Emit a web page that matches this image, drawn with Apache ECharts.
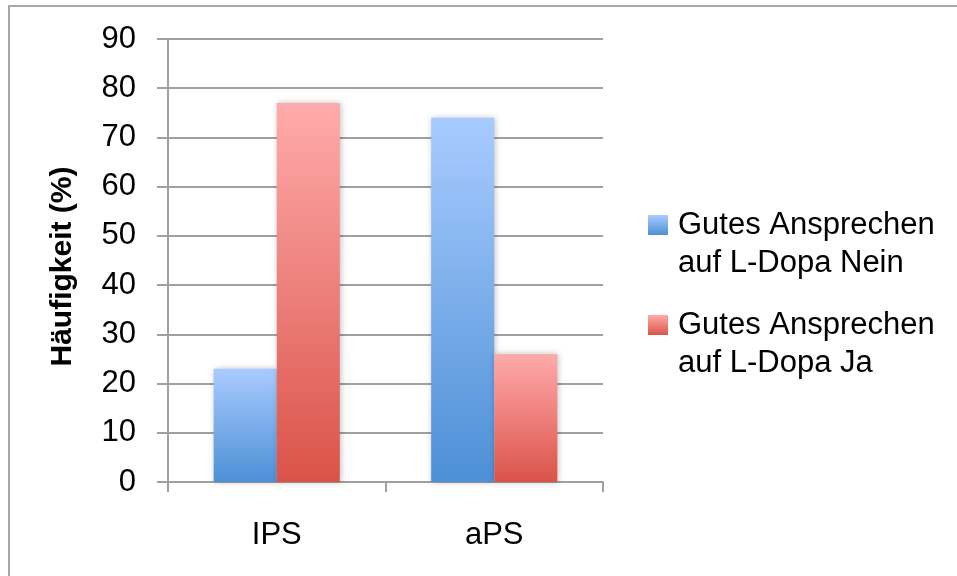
<!DOCTYPE html>
<html>
<head>
<meta charset="utf-8">
<script src="https://cdn.jsdelivr.net/npm/echarts@6/dist/echarts.min.js"></script>
<style>
html,body{margin:0;padding:0;background:#fff;overflow:hidden;}
#frame{position:absolute;left:8px;top:5px;width:1000px;height:700px;border-left:2px solid #a8a8a8;border-top:2px solid #a8a8a8;box-sizing:border-box;}
#chart{position:absolute;left:0;top:0;width:957px;height:576px;}
</style>
</head>
<body>
<div id="frame"></div>
<div id="chart"></div>
<script>
const categories = ["IPS", "aPS"];
const seriesNames = ["Gutes Ansprechen\nauf L-Dopa Nein", "Gutes Ansprechen\nauf L-Dopa Ja"];
const valuesNein = [23, 74];
const valuesJa = [77, 26];
const yTicks = [0, 10, 20, 30, 40, 50, 60, 70, 80, 90];

const font = "'Liberation Sans', Arial, sans-serif";
function grad(top, bottom, end) {
  return new echarts.graphic.LinearGradient(0, 0, 0, 1, [
    {offset: 0, color: top}, {offset: end, color: bottom}, {offset: 1, color: bottom}
  ]);
}
const blue = grad('#a9cbff', '#4d90d6', 1);
const red = grad('#ffabab', '#da5349', 1);
// legend square sits at the top of a taller icon box so it lines up with the first text line
const legendIcon = 'path://M0,0h20v20h-20z M0,58h0.01v0.01h-0.01z';

const chart = echarts.init(document.getElementById('chart'), null, {renderer: 'canvas'});
const barStyle = (c) => ({color: c, shadowBlur: 6, shadowColor: 'rgba(0,0,0,0.25)', shadowOffsetX: 1, shadowOffsetY: 0});
chart.setOption({
  animation: false,
  backgroundColor: 'transparent',
  grid: {left: 168, right: 354, top: 39, bottom: 94, containLabel: false},
  legend: {
    orient: 'vertical',
    left: 643,
    top: 201,
    itemWidth: 20,
    itemHeight: 58,
    itemGap: 24,
    icon: legendIcon,
    data: [{name: seriesNames[0], itemStyle: {color: grad('#a9cbff', '#4d90d6', 0.345)}},
           {name: seriesNames[1], itemStyle: {color: grad('#ffabab', '#da5349', 0.345)}}],
    textStyle: {fontFamily: font, fontSize: 31, color: '#000', lineHeight: 38, padding: [0, 0, 0, 5]}
  },
  xAxis: {
    type: 'category',
    data: categories,
    axisLine: {lineStyle: {color: '#a0a0a0', width: 2}},
    axisTick: {show: true, length: 10, alignWithLabel: false, lineStyle: {color: '#a0a0a0', width: 2}},
    axisLabel: {fontFamily: font, fontSize: 31, color: '#000', margin: 38}
  },
  yAxis: {
    type: 'value',
    min: yTicks[0],
    max: yTicks[yTicks.length - 1],
    interval: 10,
    name: 'Häufigkeit (%)',
    nameLocation: 'middle',
    nameGap: 90,
    nameTextStyle: {fontFamily: font, fontSize: 30, fontWeight: 'bold', color: '#000', padding: [0, 12, 0, 0]},
    axisLine: {show: true, lineStyle: {color: '#a0a0a0', width: 2}},
    axisTick: {show: true, length: 11, inside: false, lineStyle: {color: '#a0a0a0', width: 2}},
    splitLine: {lineStyle: {color: '#a0a0a0', width: 2}},
    axisLabel: {fontFamily: font, fontSize: 31, color: '#000', margin: 32}
  },
  series: [
    {name: seriesNames[0], type: 'bar', data: valuesNein, barGap: '0%', barCategoryGap: '42%', itemStyle: barStyle(blue)},
    {name: seriesNames[1], type: 'bar', data: valuesJa, barGap: '0%', barCategoryGap: '42%', itemStyle: barStyle(red)}
  ]
});
</script>
</body>
</html>
